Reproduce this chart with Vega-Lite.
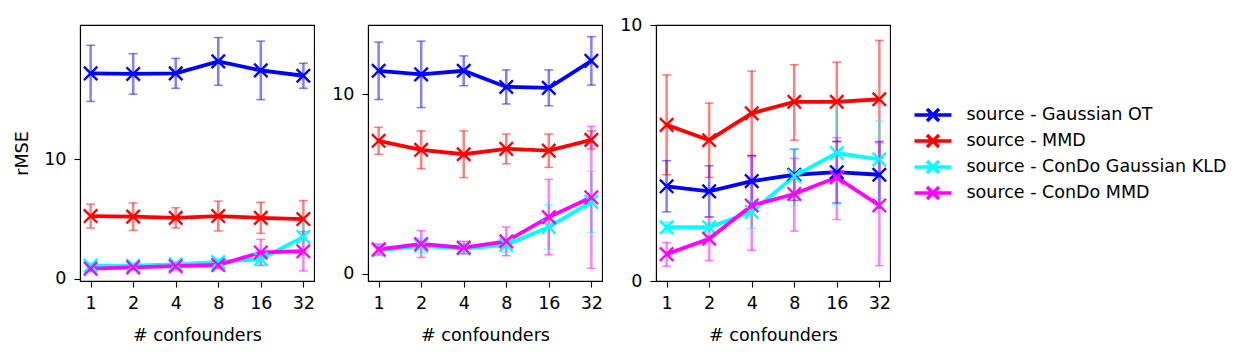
{
  "$schema": "https://vega.github.io/schema/vega-lite/v6.json",
  "background": "white",
  "padding": {"left": 13, "top": 15, "right": 5, "bottom": 5},
  "spacing": 15,
  "datasets": {
    "d": [
      {"panel": 1, "method": "source - Gaussian OT", "n": 1, "rmse": 17.2, "lo": 14.85, "hi": 19.55},
      {"panel": 1, "method": "source - Gaussian OT", "n": 2, "rmse": 17.15, "lo": 15.45, "hi": 18.85},
      {"panel": 1, "method": "source - Gaussian OT", "n": 4, "rmse": 17.2, "lo": 15.95, "hi": 18.45},
      {"panel": 1, "method": "source - Gaussian OT", "n": 8, "rmse": 18.2, "lo": 16.2, "hi": 20.2},
      {"panel": 1, "method": "source - Gaussian OT", "n": 16, "rmse": 17.45, "lo": 15.0, "hi": 19.9},
      {"panel": 1, "method": "source - Gaussian OT", "n": 32, "rmse": 17.0, "lo": 15.95, "hi": 18.05},
      {"panel": 1, "method": "source - MMD", "n": 1, "rmse": 5.25, "lo": 4.25, "hi": 6.25},
      {"panel": 1, "method": "source - MMD", "n": 2, "rmse": 5.2, "lo": 4.05, "hi": 6.35},
      {"panel": 1, "method": "source - MMD", "n": 4, "rmse": 5.1, "lo": 4.25, "hi": 5.95},
      {"panel": 1, "method": "source - MMD", "n": 8, "rmse": 5.25, "lo": 4.0, "hi": 6.5},
      {"panel": 1, "method": "source - MMD", "n": 16, "rmse": 5.1, "lo": 3.8, "hi": 6.4},
      {"panel": 1, "method": "source - MMD", "n": 32, "rmse": 5.0, "lo": 3.45, "hi": 6.55},
      {"panel": 1, "method": "source - ConDo Gaussian KLD", "n": 1, "rmse": 1.1, "lo": 0.9, "hi": 1.3},
      {"panel": 1, "method": "source - ConDo Gaussian KLD", "n": 2, "rmse": 1.1, "lo": 0.9, "hi": 1.3},
      {"panel": 1, "method": "source - ConDo Gaussian KLD", "n": 4, "rmse": 1.2, "lo": 0.95, "hi": 1.45},
      {"panel": 1, "method": "source - ConDo Gaussian KLD", "n": 8, "rmse": 1.4, "lo": 1.1, "hi": 1.7},
      {"panel": 1, "method": "source - ConDo Gaussian KLD", "n": 16, "rmse": 1.65, "lo": 1.15, "hi": 2.15},
      {"panel": 1, "method": "source - ConDo Gaussian KLD", "n": 32, "rmse": 3.5, "lo": 2.3, "hi": 4.7},
      {"panel": 1, "method": "source - ConDo MMD", "n": 1, "rmse": 0.85, "lo": 0.65, "hi": 1.05},
      {"panel": 1, "method": "source - ConDo MMD", "n": 2, "rmse": 0.95, "lo": 0.75, "hi": 1.15},
      {"panel": 1, "method": "source - ConDo MMD", "n": 4, "rmse": 1.05, "lo": 0.75, "hi": 1.35},
      {"panel": 1, "method": "source - ConDo MMD", "n": 8, "rmse": 1.15, "lo": 0.85, "hi": 1.45},
      {"panel": 1, "method": "source - ConDo MMD", "n": 16, "rmse": 2.2, "lo": 1.1, "hi": 3.3},
      {"panel": 1, "method": "source - ConDo MMD", "n": 32, "rmse": 2.3, "lo": 0.65, "hi": 3.95},
      {"panel": 2, "method": "source - Gaussian OT", "n": 1, "rmse": 11.3, "lo": 9.7, "hi": 12.9},
      {"panel": 2, "method": "source - Gaussian OT", "n": 2, "rmse": 11.1, "lo": 9.25, "hi": 12.95},
      {"panel": 2, "method": "source - Gaussian OT", "n": 4, "rmse": 11.3, "lo": 10.47, "hi": 12.13},
      {"panel": 2, "method": "source - Gaussian OT", "n": 8, "rmse": 10.4, "lo": 9.45, "hi": 11.35},
      {"panel": 2, "method": "source - Gaussian OT", "n": 16, "rmse": 10.35, "lo": 9.35, "hi": 11.35},
      {"panel": 2, "method": "source - Gaussian OT", "n": 32, "rmse": 11.85, "lo": 10.5, "hi": 13.2},
      {"panel": 2, "method": "source - MMD", "n": 1, "rmse": 7.4, "lo": 6.65, "hi": 8.15},
      {"panel": 2, "method": "source - MMD", "n": 2, "rmse": 6.9, "lo": 5.85, "hi": 7.95},
      {"panel": 2, "method": "source - MMD", "n": 4, "rmse": 6.65, "lo": 5.35, "hi": 7.95},
      {"panel": 2, "method": "source - MMD", "n": 8, "rmse": 6.95, "lo": 6.12, "hi": 7.78},
      {"panel": 2, "method": "source - MMD", "n": 16, "rmse": 6.85, "lo": 5.92, "hi": 7.78},
      {"panel": 2, "method": "source - MMD", "n": 32, "rmse": 7.45, "lo": 6.95, "hi": 7.95},
      {"panel": 2, "method": "source - ConDo Gaussian KLD", "n": 1, "rmse": 1.3, "lo": 1.0, "hi": 1.6},
      {"panel": 2, "method": "source - ConDo Gaussian KLD", "n": 2, "rmse": 1.55, "lo": 1.15, "hi": 1.95},
      {"panel": 2, "method": "source - ConDo Gaussian KLD", "n": 4, "rmse": 1.4, "lo": 1.1, "hi": 1.7},
      {"panel": 2, "method": "source - ConDo Gaussian KLD", "n": 8, "rmse": 1.6, "lo": 1.2, "hi": 2.0},
      {"panel": 2, "method": "source - ConDo Gaussian KLD", "n": 16, "rmse": 2.6, "lo": 1.35, "hi": 3.85},
      {"panel": 2, "method": "source - ConDo Gaussian KLD", "n": 32, "rmse": 4.0, "lo": 2.3, "hi": 5.7},
      {"panel": 2, "method": "source - ConDo MMD", "n": 1, "rmse": 1.35, "lo": 1.05, "hi": 1.65},
      {"panel": 2, "method": "source - ConDo MMD", "n": 2, "rmse": 1.65, "lo": 0.9, "hi": 2.4},
      {"panel": 2, "method": "source - ConDo MMD", "n": 4, "rmse": 1.45, "lo": 1.1, "hi": 1.8},
      {"panel": 2, "method": "source - ConDo MMD", "n": 8, "rmse": 1.8, "lo": 1.0, "hi": 2.6},
      {"panel": 2, "method": "source - ConDo MMD", "n": 16, "rmse": 3.15, "lo": 1.05, "hi": 5.25},
      {"panel": 2, "method": "source - ConDo MMD", "n": 32, "rmse": 4.25, "lo": 0.3, "hi": 8.2},
      {"panel": 3, "method": "source - Gaussian OT", "n": 1, "rmse": 3.7, "lo": 2.7, "hi": 4.7},
      {"panel": 3, "method": "source - Gaussian OT", "n": 2, "rmse": 3.5, "lo": 2.5, "hi": 4.5},
      {"panel": 3, "method": "source - Gaussian OT", "n": 4, "rmse": 3.9, "lo": 2.9, "hi": 4.9},
      {"panel": 3, "method": "source - Gaussian OT", "n": 8, "rmse": 4.15, "lo": 3.15, "hi": 5.15},
      {"panel": 3, "method": "source - Gaussian OT", "n": 16, "rmse": 4.25, "lo": 3.05, "hi": 5.45},
      {"panel": 3, "method": "source - Gaussian OT", "n": 32, "rmse": 4.15, "lo": 2.85, "hi": 5.45},
      {"panel": 3, "method": "source - MMD", "n": 1, "rmse": 6.1, "lo": 4.15, "hi": 8.05},
      {"panel": 3, "method": "source - MMD", "n": 2, "rmse": 5.5, "lo": 4.05, "hi": 6.95},
      {"panel": 3, "method": "source - MMD", "n": 4, "rmse": 6.55, "lo": 4.9, "hi": 8.2},
      {"panel": 3, "method": "source - MMD", "n": 8, "rmse": 7.0, "lo": 5.5, "hi": 8.45},
      {"panel": 3, "method": "source - MMD", "n": 16, "rmse": 7.0, "lo": 5.45, "hi": 8.55},
      {"panel": 3, "method": "source - MMD", "n": 32, "rmse": 7.1, "lo": 4.8, "hi": 9.4},
      {"panel": 3, "method": "source - ConDo Gaussian KLD", "n": 1, "rmse": 2.1, "lo": 1.9, "hi": 2.3},
      {"panel": 3, "method": "source - ConDo Gaussian KLD", "n": 2, "rmse": 2.1, "lo": 1.9, "hi": 2.3},
      {"panel": 3, "method": "source - ConDo Gaussian KLD", "n": 4, "rmse": 2.7, "lo": 2.05, "hi": 3.15},
      {"panel": 3, "method": "source - ConDo Gaussian KLD", "n": 8, "rmse": 4.1, "lo": 2.95, "hi": 5.15},
      {"panel": 3, "method": "source - ConDo Gaussian KLD", "n": 16, "rmse": 5.0, "lo": 3.0, "hi": 7.0},
      {"panel": 3, "method": "source - ConDo Gaussian KLD", "n": 32, "rmse": 4.75, "lo": 3.25, "hi": 6.25},
      {"panel": 3, "method": "source - ConDo MMD", "n": 1, "rmse": 1.05, "lo": 0.58, "hi": 1.5},
      {"panel": 3, "method": "source - ConDo MMD", "n": 2, "rmse": 1.65, "lo": 0.8, "hi": 2.5},
      {"panel": 3, "method": "source - ConDo MMD", "n": 4, "rmse": 2.95, "lo": 1.2, "hi": 4.85},
      {"panel": 3, "method": "source - ConDo MMD", "n": 8, "rmse": 3.4, "lo": 1.95, "hi": 4.8},
      {"panel": 3, "method": "source - ConDo MMD", "n": 16, "rmse": 4.05, "lo": 2.4, "hi": 5.6},
      {"panel": 3, "method": "source - ConDo MMD", "n": 32, "rmse": 2.95, "lo": 0.6, "hi": 5.4}
    ]
  },
  "data": {"name": "d"},
  "hconcat": [
    {
      "width": 234, "height": 256,
      "transform": [{"filter": "datum.panel == 1"}],
      "encoding": {
        "x": {"field": "n", "type": "quantitative", "scale": {"type": "log", "base": 2, "domain": [0.8409, 38.055], "nice": false}, "axis": {"values": [1, 2, 4, 8, 16, 32], "format": "d", "title": "# confounders"}},
        "color": {"field": "method", "type": "nominal", "sort": ["source - Gaussian OT", "source - MMD", "source - ConDo Gaussian KLD", "source - ConDo MMD"], "scale": {"domain": ["source - Gaussian OT", "source - MMD", "source - ConDo Gaussian KLD", "source - ConDo MMD"], "range": ["#0000ff", "#ff0000", "#00ffff", "#ff00ff"]}, "title": null}
      },
      "layer": [
        {"mark": {"type": "rule", "strokeWidth": 2.5, "opacity": 0.5}, "encoding": {"y": {"field": "lo", "type": "quantitative", "scale": {"domain": [-0.19, 21.25], "nice": false, "zero": false}, "axis": {"values": [0, 10], "title": "rMSE"}}, "y2": {"field": "hi"}}},
        {"mark": {"type": "tick", "orient": "horizontal", "size": 9, "thickness": 1.5, "opacity": 0.5}, "encoding": {"y": {"field": "lo", "type": "quantitative", "title": "rMSE"}}},
        {"mark": {"type": "tick", "orient": "horizontal", "size": 9, "thickness": 1.5, "opacity": 0.5}, "encoding": {"y": {"field": "hi", "type": "quantitative", "title": "rMSE"}}},
        {"mark": {"type": "line", "strokeWidth": 3.8}, "encoding": {"y": {"field": "rmse", "type": "quantitative", "title": "rMSE"}}},
        {"mark": {"type": "point", "shape": "M-1,-1L1,1M-1,1L1,-1", "filled": false, "size": 180, "strokeWidth": 2.4, "opacity": 1}, "encoding": {"y": {"field": "rmse", "type": "quantitative", "title": "rMSE"}}}
      ]
    },
    {
      "width": 234, "height": 256,
      "transform": [{"filter": "datum.panel == 2"}],
      "encoding": {
        "x": {"field": "n", "type": "quantitative", "scale": {"type": "log", "base": 2, "domain": [0.8409, 38.055], "nice": false}, "axis": {"values": [1, 2, 4, 8, 16, 32], "format": "d", "title": "# confounders"}},
        "color": {"field": "method", "type": "nominal", "sort": ["source - Gaussian OT", "source - MMD", "source - ConDo Gaussian KLD", "source - ConDo MMD"], "title": null}
      },
      "layer": [
        {"mark": {"type": "rule", "strokeWidth": 2.5, "opacity": 0.5}, "encoding": {"y": {"field": "lo", "type": "quantitative", "scale": {"domain": [-0.41, 13.85], "nice": false, "zero": false}, "axis": {"values": [0, 10], "title": null}}, "y2": {"field": "hi"}}},
        {"mark": {"type": "tick", "orient": "horizontal", "size": 9, "thickness": 1.5, "opacity": 0.5}, "encoding": {"y": {"field": "lo", "type": "quantitative", "title": null}}},
        {"mark": {"type": "tick", "orient": "horizontal", "size": 9, "thickness": 1.5, "opacity": 0.5}, "encoding": {"y": {"field": "hi", "type": "quantitative", "title": null}}},
        {"mark": {"type": "line", "strokeWidth": 3.8}, "encoding": {"y": {"field": "rmse", "type": "quantitative", "title": null}}},
        {"mark": {"type": "point", "shape": "M-1,-1L1,1M-1,1L1,-1", "filled": false, "size": 180, "strokeWidth": 2.4, "opacity": 1}, "encoding": {"y": {"field": "rmse", "type": "quantitative", "title": null}}}
      ]
    },
    {
      "width": 234, "height": 256,
      "transform": [{"filter": "datum.panel == 3"}],
      "encoding": {
        "x": {"field": "n", "type": "quantitative", "scale": {"type": "log", "base": 2, "domain": [0.8409, 38.055], "nice": false}, "axis": {"values": [1, 2, 4, 8, 16, 32], "format": "d", "title": "# confounders"}},
        "color": {"field": "method", "type": "nominal", "sort": ["source - Gaussian OT", "source - MMD", "source - ConDo Gaussian KLD", "source - ConDo MMD"], "title": null}
      },
      "layer": [
        {"mark": {"type": "rule", "strokeWidth": 2.5, "opacity": 0.5}, "encoding": {"y": {"field": "lo", "type": "quantitative", "scale": {"domain": [0, 10], "nice": false, "zero": false}, "axis": {"values": [0, 10], "title": null}}, "y2": {"field": "hi"}}},
        {"mark": {"type": "tick", "orient": "horizontal", "size": 9, "thickness": 1.5, "opacity": 0.5}, "encoding": {"y": {"field": "lo", "type": "quantitative", "title": null}}},
        {"mark": {"type": "tick", "orient": "horizontal", "size": 9, "thickness": 1.5, "opacity": 0.5}, "encoding": {"y": {"field": "hi", "type": "quantitative", "title": null}}},
        {"mark": {"type": "line", "strokeWidth": 3.8}, "encoding": {"y": {"field": "rmse", "type": "quantitative", "title": null}}},
        {"mark": {"type": "point", "shape": "M-1,-1L1,1M-1,1L1,-1", "filled": false, "size": 180, "strokeWidth": 2.4, "opacity": 1}, "encoding": {"y": {"field": "rmse", "type": "quantitative", "title": null}}}
      ]
    }
  ],
  "resolve": {"scale": {"y": "independent", "color": "shared"}},
  "config": {
    "font": "DejaVu Sans",
    "view": {"stroke": "black", "strokeWidth": 1.1},
    "axis": {"labelFont": "DejaVu Sans", "titleFont": "DejaVu Sans", "labelFontSize": 17.5, "titleFontSize": 17.5, "titleFontWeight": "normal", "labelColor": "black", "titleColor": "black", "domainColor": "black", "tickColor": "black", "tickSize": 6, "tickWidth": 1.1, "domainWidth": 1.1, "grid": false},
    "axisY": {"labelPadding": 8, "titlePadding": 12},
    "axisX": {"labelPadding": 7, "titlePadding": 15, "labelFlush": false, "labelOverlap": false},
    "legend": {
      "orient": "none", "legendX": 841, "legendY": 78,
      "labelFont": "DejaVu Sans", "labelFontSize": 17.5, "labelColor": "black", "labelOffset": 21.5,
      "symbolType": "M-1.85,0H1.85M-0.6,-0.6L0.6,0.6M-0.6,0.6L0.6,-0.6",
      "symbolSize": 400, "symbolStrokeWidth": 3.5, "rowPadding": 0, "symbolOpacity": 1,
      "labelLimit": 400,
      "encode": {"symbols": {"update": {"stroke": {"scale": "color", "field": "value"}, "fill": {"value": "transparent"}, "strokeWidth": {"value": 3.8}}}}
    }
  }
}
